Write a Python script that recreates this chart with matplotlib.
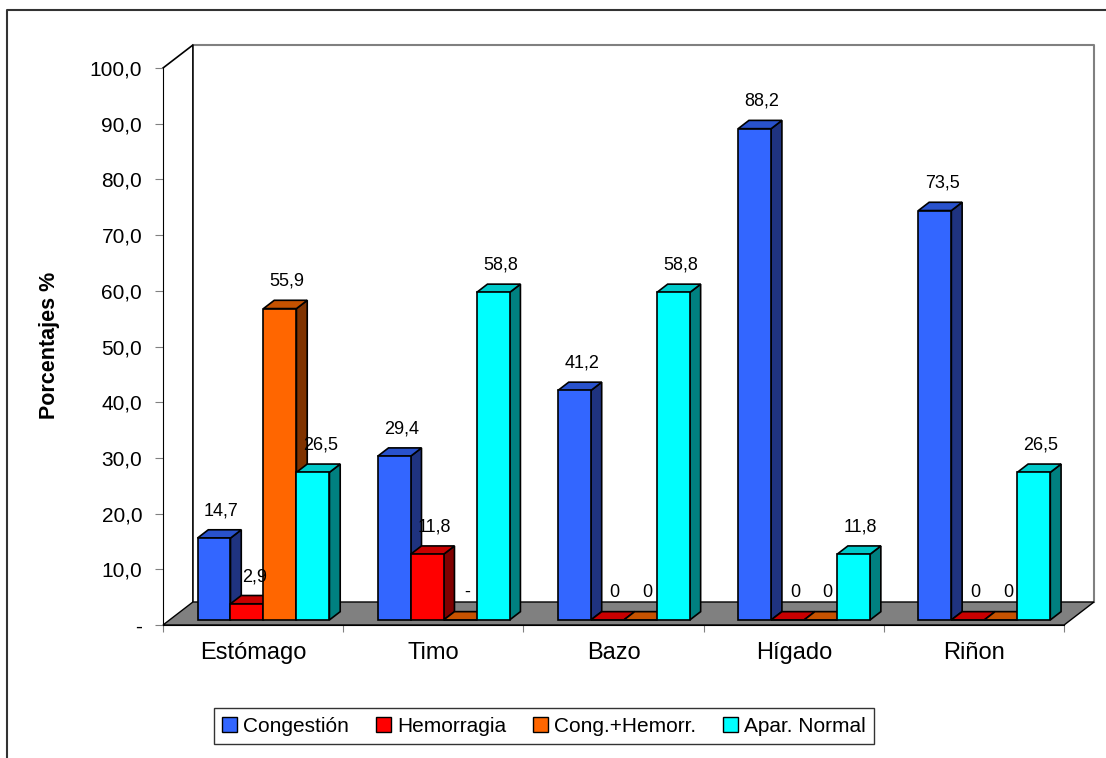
import numpy as np
import matplotlib.pyplot as plt
from matplotlib.patches import Polygon, Patch
from matplotlib.lines import Line2D

plt.rcParams['font.family'] = ['Liberation Sans', 'DejaVu Sans']

# Datos (porcentajes por órgano)
categorias = ["Estómago", "Timo", "Bazo", "Hígado", "Riñon"]
series = ["Congestión", "Hemorragia", "Cong.+Hemorr.", "Apar. Normal"]
congestion = [14.7, 29.4, 41.2, 88.2, 73.5]
hemorragia = [2.9, 11.8, 0, 0, 0]
cong_hemorr = [55.9, 0, 0, 0, 0]
apar_normal = [26.5, 58.8, 58.8, 11.8, 26.5]
etiquetas = [
    ["14,7", "29,4", "41,2", "88,2", "73,5"],
    ["2,9", "11,8", "0", "0", "0"],
    ["55,9", "-", "0", "0", "0"],
    ["26,5", "58,8", "58,8", "11,8", "26,5"],
]
valores = [congestion, hemorragia, cong_hemorr, apar_normal]

frente = ["#3366FF", "#FF0000", "#FF6600", "#00FFFF"]
arriba = ["#2952CC", "#C80000", "#C65200", "#00C8C8"]
lado = ["#1F3380", "#800000", "#803300", "#008080"]

# geometría del efecto 3D
DX, DY = 0.166, 4.13   # profundidad total (en unidades de datos)
F, D = 0.22, 0.36      # posición y fondo de las barras
BW, OFF = 0.183, 0.155

fig = plt.figure(figsize=(11.06, 7.58), dpi=100)
ax = fig.add_axes([163 / 1106, 1 - 625 / 758, (1094 - 163) / 1106, (625 - 45) / 758])
ax.set_xlim(0, 5 + DX)
ax.set_ylim(0, 100 + DY)

# paredes y piso
ax.plot([DX, 5 + DX, 5 + DX], [100 + DY, 100 + DY, DY], color="#808080", lw=1.5, clip_on=False, zorder=1)
ax.plot([0, DX, DX], [100, 100 + DY, DY], color="black", lw=1.2, clip_on=False, zorder=1)
ax.add_patch(Polygon([(0, 0), (5, 0), (5 + DX, DY), (DX, DY)], closed=True,
                     fc="#808080", ec="black", lw=1.0, clip_on=False, zorder=1))

# barras
for i in range(len(categorias)):
    for j in range(len(series)):
        v = valores[j][i]
        x0 = i + OFF + j * BW + F * DX
        y0 = F * DY
        dx, dy = D * DX, D * DY
        z = 2 + i * 4 + j
        ax.add_patch(Polygon([(x0 + BW, y0), (x0 + BW + dx, y0 + dy), (x0 + BW + dx, y0 + v + dy), (x0 + BW, y0 + v)],
                             closed=True, fc=lado[j], ec="black", lw=1.2, zorder=z, clip_on=False))
        ax.add_patch(Polygon([(x0, y0 + v), (x0 + BW, y0 + v), (x0 + BW + dx, y0 + v + dy), (x0 + dx, y0 + v + dy)],
                             closed=True, fc=arriba[j], ec="black", lw=1.2, zorder=z, clip_on=False))
        ax.add_patch(Polygon([(x0, y0), (x0 + BW, y0), (x0 + BW, y0 + v), (x0, y0 + v)],
                             closed=True, fc=frente[j], ec="black", lw=1.2, zorder=z, clip_on=False))
        ax.text(x0 + BW / 2 + dx / 2 + 0.01, y0 + v + dy + 3.4, etiquetas[j][i],
                ha="center", va="center", fontsize=13, zorder=60)

# ejes
yt = np.arange(0, 101, 10)
ax.set_yticks(yt)
ax.set_yticklabels(["-" if t == 0 else f"{t:.1f}".replace(".", ",") for t in yt])
ax.tick_params(axis="y", direction="out", length=6, color="#808080", labelsize=15, pad=9)

ax.set_xticks(range(6))
ax.set_xticklabels([])
ax.set_xticks([i + 0.5 for i in range(5)], minor=True)
ax.set_xticklabels(categorias, minor=True)
ax.tick_params(axis="x", which="major", direction="out", length=5, color="#808080")
ax.tick_params(axis="x", which="minor", length=0, labelsize=17, pad=12)

ax.spines["left"].set_bounds(0, 100)
ax.spines["bottom"].set_bounds(0, 5)
ax.spines["top"].set_visible(False)
ax.spines["right"].set_visible(False)
ax.patch.set_alpha(0)

fig.text(50 / 1106, 1 - 345 / 758, "Porcentajes %", rotation=90, ha="center", va="center",
         fontsize=15.5, fontweight="bold")

handles = [Patch(fc=frente[j], ec="black") for j in range(4)]
leg = fig.legend(handles, series, loc="center", bbox_to_anchor=(544 / 1106, 1 - 726 / 758), ncol=4,
                 frameon=True, fancybox=False, edgecolor="black", fontsize=15, handlelength=0.7,
                 handleheight=0.7, handletextpad=0.3, columnspacing=1.3, borderpad=0.4)
leg.get_frame().set_linewidth(1.0)

# marco exterior
fig.add_artist(Line2D([7 / 1106, 7 / 1106, 1.0], [0, 1 - 10 / 758, 1 - 10 / 758],
                      transform=fig.transFigure, color="#333333", lw=1.5))

plt.savefig("out.png", dpi=100)
